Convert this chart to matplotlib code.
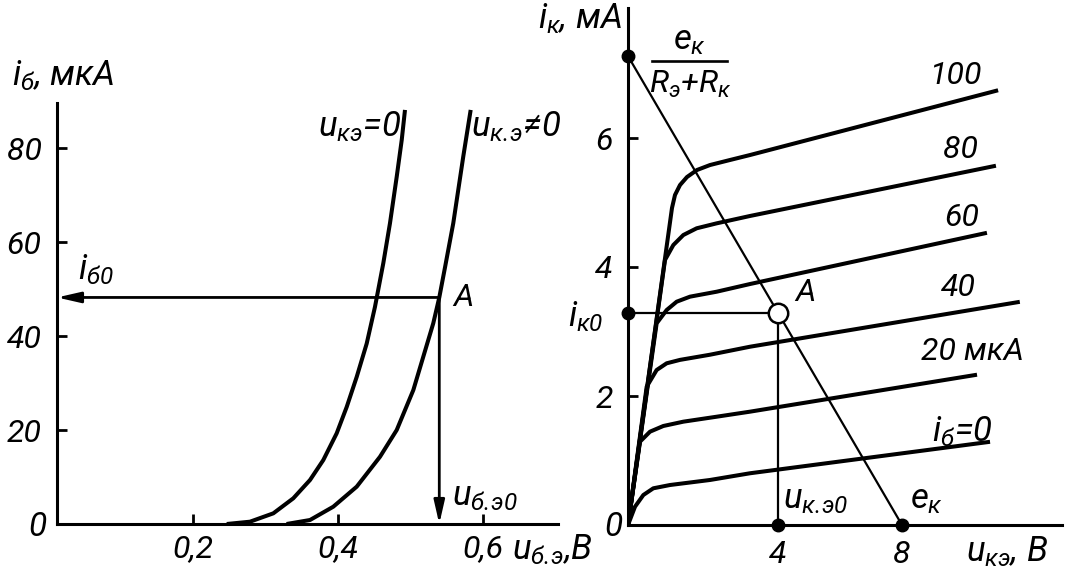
import numpy as np
import matplotlib
matplotlib.use("Agg")
import matplotlib.pyplot as plt
from matplotlib import font_manager

# ---------------- data ----------------
# Input characteristics (left), i_b [uA] vs u_be [V]
ube_k0 = [0.2465, 0.2786, 0.3108, 0.3383, 0.3614, 0.3797, 0.3982, 0.4120, 0.4258,
          0.4396, 0.4510, 0.4625, 0.4717, 0.4810, 0.4879, 0.4924]
ib_k0 = [0.0, 0.49, 2.27, 5.46, 9.36, 13.6, 19.3, 24.9, 31.3, 38.4, 46.2, 55.5, 64.0,
         73.9, 81.7, 88.1]
ube_kn = [0.329, 0.3614, 0.3935, 0.4258, 0.4579, 0.481, 0.5039, 0.5314, 0.5397, 0.5476,
          0.559, 0.5728, 0.583]
ib_kn = [0.0, 0.85, 3.68, 7.94, 14.3, 20.0, 28.5, 42.7, 48.2, 54.6, 64.0, 78.2, 88.1]
point_A_in = (0.5397, 48.2)
left_yticks = [20, 40, 60, 80]
left_xticks = [0.2, 0.4, 0.6]
left_xticklabels = ["0,2", "0,4", "0,6"]

# Output characteristics (right), i_k [mA] vs u_ke [V]
ib_levels = ["0", "20", "40", "60", "80", "100"]
uce_curves = {
    "0":   [0.0, 0.187, 0.409, 0.675, 1.12, 2.187, 3.253, 10.84],
    "20":  [0.0, 0.32, 0.587, 0.942, 1.476, 2.365, 3.253, 10.42],
    "40":  [0.0, 0.498, 0.764, 1.031, 1.387, 2.187, 3.253, 11.80],
    "60":  [0.0, 0.764, 1.031, 1.298, 1.653, 2.365, 3.253, 10.74],
    "80":  [0.0, 0.987, 1.209, 1.476, 1.831, 2.365, 3.253, 11.03],
    "100": [0.0, 1.173, 1.253, 1.387, 1.573, 1.84, 2.187, 2.72, 3.253, 11.10],
}
ik_curves = {
    "0":   [0.0, 0.284, 0.465, 0.569, 0.620, 0.698, 0.802, 1.29],
    "20":  [0.0, 1.292, 1.447, 1.535, 1.602, 1.679, 1.757, 2.33],
    "40":  [0.0, 2.144, 2.403, 2.507, 2.560, 2.640, 2.764, 3.46],
    "60":  [0.0, 3.127, 3.333, 3.462, 3.540, 3.617, 3.736, 4.53],
    "80":  [0.0, 4.109, 4.341, 4.496, 4.600, 4.677, 4.791, 5.57],
    "100": [0.0, 4.915, 5.116, 5.271, 5.395, 5.504, 5.581, 5.659, 5.736, 6.74],
}
ek = 8.0
ik_short = 7.27
point_A_out = (4.0, 3.28)
right_yticks = [2, 4, 6]
right_xticks = [4, 8]

# ---------------- fonts ----------------
names = {f.name for f in font_manager.fontManager.ttflist}
fam = "Roboto" if "Roboto" in names else "DejaVu Sans"
plt.rcParams["font.family"] = [fam, "DejaVu Sans"]
plt.rcParams["font.style"] = "italic"
plt.rcParams["mathtext.fontset"] = "custom"
plt.rcParams["mathtext.it"] = fam + ":italic"
plt.rcParams["mathtext.rm"] = fam + ":italic"
plt.rcParams["mathtext.sf"] = fam + ":italic"

W, H = 1070, 579
fig = plt.figure(figsize=(W / 100, H / 100), dpi=100)

FS = 23
MS = 25

def ftext(x, y, s, size=FS, ha="left", va="center"):
    fig.text(x / W, 1 - y / H, s, fontsize=size, ha=ha, va=va, style="italic")

LW = 2.9
SP = 2.2

# ---------------- left axes ----------------
x0, x1, yb, yt = 57, 558, 524, 103
axL = fig.add_axes([x0 / W, 1 - yb / H, (x1 - x0) / W, (yb - yt) / H])
axL.set_xlim((57 - 48) / 725, (x1 - 48) / 725)
axL.set_ylim(0, (524 - 103) / 4.7)
for s in ["top", "right"]:
    axL.spines[s].set_visible(False)
for s in ["left", "bottom"]:
    axL.spines[s].set_linewidth(SP)
axL.plot(ube_k0, ib_k0, color="k", lw=LW, solid_capstyle="butt", solid_joinstyle="round")
axL.plot(ube_kn, ib_kn, color="k", lw=LW, solid_capstyle="butt", solid_joinstyle="round")
aprops = dict(arrowstyle="-|>,head_length=1.4,head_width=0.32", color="k", lw=2.0,
              shrinkA=0, shrinkB=0)
axL.annotate("", xy=(axL.get_xlim()[0], point_A_in[1]), xytext=point_A_in, arrowprops=aprops)
axL.annotate("", xy=(point_A_in[0], 0), xytext=point_A_in, arrowprops=aprops)
axL.set_yticks(left_yticks)
axL.set_yticklabels([str(v) for v in left_yticks])
axL.set_xticks(left_xticks)
axL.set_xticklabels(left_xticklabels)
axL.tick_params(direction="in", length=7, width=2, labelsize=FS, pad=11)
axL.tick_params(axis="x", pad=7)

ftext(12, 76, r"$i_{б}$, мкА", MS)
ftext(37, 527, "0", 24, ha="center")
ftext(401, 127, r"$u_{кэ}$=0", MS, ha="right")
ftext(471, 127, r"$u_{к.\!э}$≠0", MS)
ftext(78, 270, r"$i_{б0}$", MS)
ftext(453, 297, "A", FS)
ftext(452, 496, r"$u_{б.\!э0}$", MS)
ftext(512, 550, r"$u_{б.\!э}$,B", MS)

# ---------------- right axes ----------------
kx = [-10, 0, 4, 8, 30]
kp = [-375, 0, 150, 274, 956]
fwd = lambda x: np.interp(x, kx, kp)
inv = lambda p: np.interp(p, kp, kx)
rx0, rx1, ryb, ryt = 628, 1062, 525, 8
axR = fig.add_axes([rx0 / W, 1 - ryb / H, (rx1 - rx0) / W, (ryb - ryt) / H])
axR.set_xscale("function", functions=(fwd, inv))
axR.set_xlim(0, inv(rx1 - rx0))
axR.set_ylim(0, (525 - 8) / 64.5)
for s in ["top", "right"]:
    axR.spines[s].set_visible(False)
for s in ["left", "bottom"]:
    axR.spines[s].set_linewidth(SP)
for lev in ib_levels:
    axR.plot(uce_curves[lev], ik_curves[lev], color="k", lw=LW, solid_capstyle="butt",
             solid_joinstyle="round")
axR.plot([0, ek], [ik_short, 0], color="k", lw=1.6)
axR.plot([0, point_A_out[0]], [point_A_out[1]] * 2, color="k", lw=1.6)
axR.plot([point_A_out[0]] * 2, [0, point_A_out[1]], color="k", lw=1.6)
axR.plot([0, 0, point_A_out[0], ek], [ik_short, point_A_out[1], 0, 0], "o", color="k",
         ms=9, clip_on=False, zorder=5)
axR.plot([point_A_out[0]], [point_A_out[1]], "o", mfc="white", mec="k", mew=1.8, ms=14,
         zorder=6)
axR.set_yticks(right_yticks)
axR.set_yticklabels([str(v) for v in right_yticks])
axR.set_xticks(right_xticks)
axR.set_xticklabels([str(v) for v in right_xticks])
axR.tick_params(axis="y", direction="in", length=7, width=2, labelsize=FS, pad=11)
axR.tick_params(axis="x", length=0, labelsize=FS, pad=11)

ftext(622, 19, r"$i_{к}$, мА", MS, ha="right")
# e_k / (R_e + R_k)
ftext(690, 40, r"$e_{к}$", MS, ha="center")
fig.add_artist(plt.Line2D([652 / W, 727 / W], [1 - 61 / H, 1 - 61 / H], color="k", lw=1.9))
ftext(690, 84, r"$R_{э}$+$R_{к}$", FS, ha="center")
ftext(613, 527, "0", 24, ha="center")
ftext(568, 317, r"$i_{к0}$", MS)
ftext(795, 293, "A", FS)
ftext(783, 499, r"$u_{к.\!э0}$", MS)
ftext(910, 499, r"$e_{к}$", MS)
ftext(966, 552, r"$u_{кэ}$, B", MS)
ftext(955, 75, "100", FS, ha="center")
ftext(960, 150, "80", FS, ha="center")
ftext(962, 217, "60", FS, ha="center")
ftext(958, 287, "40", FS, ha="center")
ftext(972, 351, "20 мкА", FS, ha="center")
ftext(962, 432, r"$i_{б}$=0", MS, ha="center")

fig.savefig("out.png", dpi=100)
